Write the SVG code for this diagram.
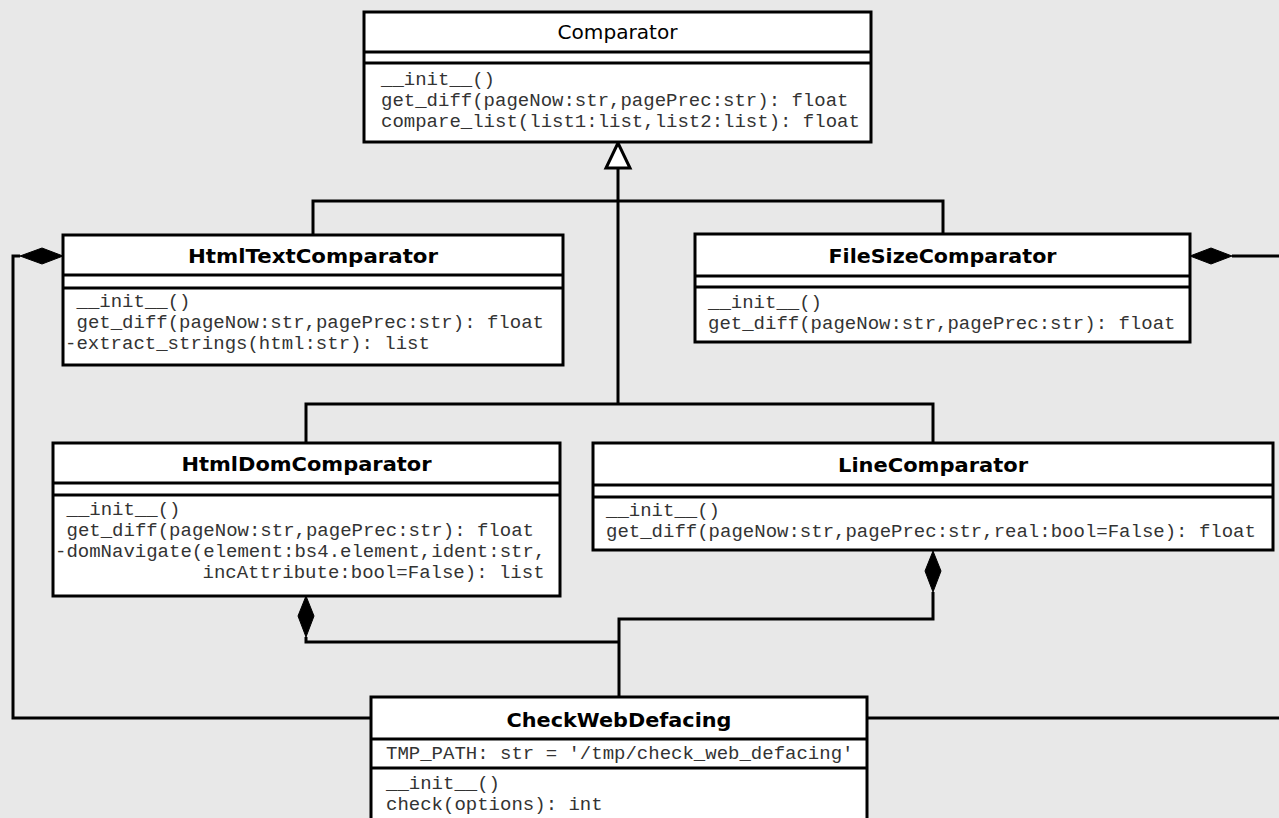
<svg xmlns="http://www.w3.org/2000/svg" width="1279" height="818" viewBox="0 0 1279 818">
<style>
.box{fill:#fff;stroke:#000;stroke-width:3}
.sep{stroke:#000;stroke-width:3}
.ttl{font-family:"DejaVu Sans","Liberation Sans",sans-serif;font-weight:bold;font-size:20px;fill:#000;text-anchor:middle}
.ttlr{font-family:"DejaVu Sans","Liberation Sans",sans-serif;font-size:20px;fill:#000;text-anchor:middle}
.m{font-family:"Liberation Mono","Courier New",monospace;font-size:19px;fill:#333}
.ln{fill:none;stroke:#000;stroke-width:3}
.dia{fill:#000;stroke:#000;stroke-width:1}
</style>
<rect width="1279" height="818" fill="#e8e8e8"/>
<g id="connectors">
<polyline class="ln" points="618,168 618,404"/>
<polyline class="ln" points="313,235 313,201 943,201 943,234"/>
<polyline class="ln" points="306,443 306,404 933,404 933,443"/>
<polygon points="618,143 606,168 630,168" fill="#fff" stroke="#000" stroke-width="3"/>
<polyline class="ln" points="20,256 13,256 13,718 371,718"/>
<polygon class="dia" points="63,256 42,248 20,256 42,264"/>
<polyline class="ln" points="1232,256 1290,256 1290,718 867,718"/>
<polygon class="dia" points="1190,256 1211,248 1232,256 1211,264"/>
<polyline class="ln" points="306,637 306,642 619,642"/>
<polygon class="dia" points="306,596 298,616 306,637 314,616"/>
<polyline class="ln" points="933,592 933,619 619,619 619,697"/>
<polygon class="dia" points="933,551 925,571 933,592 941,571"/>
</g>
<g id="Comparator">
<rect class="box" x="364" y="12" width="507" height="130"/>
<line class="sep" x1="364" y1="52" x2="871" y2="52"/>
<line class="sep" x1="364" y1="63" x2="871" y2="63"/>
<text class="ttlr" x="617.5" y="39" textLength="120" lengthAdjust="spacingAndGlyphs">Comparator</text>
<text class="m" x="381" y="85">__init__()</text>
<text class="m" x="381" y="106">get_diff(pageNow:str,pagePrec:str): float</text>
<text class="m" x="381" y="127">compare_list(list1:list,list2:list): float</text>
</g>
<g id="HtmlTextComparator">
<rect class="box" x="63" y="235" width="500" height="130"/>
<line class="sep" x1="63" y1="275" x2="563" y2="275"/>
<line class="sep" x1="63" y1="288" x2="563" y2="288"/>
<text class="ttl" x="313" y="263" textLength="250" lengthAdjust="spacingAndGlyphs">HtmlTextComparator</text>
<text class="m" x="76.5" y="307">__init__()</text>
<text class="m" x="76.5" y="328">get_diff(pageNow:str,pagePrec:str): float</text>
<text class="m" x="65" y="349">-extract_strings(html:str): list</text>
</g>
<g id="FileSizeComparator">
<rect class="box" x="695" y="234" width="495" height="108"/>
<line class="sep" x1="695" y1="276" x2="1190" y2="276"/>
<line class="sep" x1="695" y1="287" x2="1190" y2="287"/>
<text class="ttl" x="942.5" y="263" textLength="228" lengthAdjust="spacingAndGlyphs">FileSizeComparator</text>
<text class="m" x="708" y="308">__init__()</text>
<text class="m" x="708" y="329">get_diff(pageNow:str,pagePrec:str): float</text>
</g>
<g id="HtmlDomComparator">
<rect class="box" x="53" y="443" width="507" height="153"/>
<line class="sep" x1="53" y1="483" x2="560" y2="483"/>
<line class="sep" x1="53" y1="495" x2="560" y2="495"/>
<text class="ttl" x="306.5" y="471" textLength="250" lengthAdjust="spacingAndGlyphs">HtmlDomComparator</text>
<text class="m" x="66.5" y="515">__init__()</text>
<text class="m" x="66.5" y="536">get_diff(pageNow:str,pagePrec:str): float</text>
<text class="m" x="55" y="557">-domNavigate(element:bs4.element,ident:str,</text>
<text class="m" x="202.5" y="578">incAttribute:bool=False): list</text>
</g>
<g id="LineComparator">
<rect class="box" x="593" y="443" width="680" height="107"/>
<line class="sep" x1="593" y1="485" x2="1273" y2="485"/>
<line class="sep" x1="593" y1="497" x2="1273" y2="497"/>
<text class="ttl" x="933" y="472" textLength="190" lengthAdjust="spacingAndGlyphs">LineComparator</text>
<text class="m" x="606" y="516">__init__()</text>
<text class="m" x="606" y="537">get_diff(pageNow:str,pagePrec:str,real:bool=False): float</text>
</g>
<g id="CheckWebDefacing">
<rect class="box" x="371" y="697" width="496" height="140"/>
<line class="sep" x1="371" y1="739" x2="867" y2="739"/>
<line class="sep" x1="371" y1="768" x2="867" y2="768"/>
<text class="ttl" x="619" y="727" textLength="225" lengthAdjust="spacingAndGlyphs">CheckWebDefacing</text>
<text class="m" x="386" y="759">TMP_PATH: str = '/tmp/check_web_defacing'</text>
<text class="m" x="386" y="789">__init__()</text>
<text class="m" x="386" y="810">check(options): int</text>
</g>
</svg>
